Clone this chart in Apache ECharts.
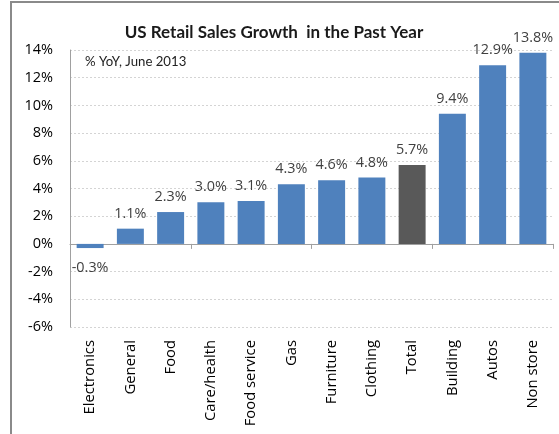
<!DOCTYPE html>
<html>
<head>
<meta charset="utf-8">
<style>
  html, body { margin: 0; padding: 0; background: #ffffff; }
  #chart { width: 559px; height: 434px; }
</style>
<script src="https://cdn.jsdelivr.net/npm/echarts@6/dist/echarts.min.js"></script>
</head>
<body>
<div id="chart"></div>
<script>
// Retail sales growth by category, % year over year
const categories = ['Electronics', 'General', 'Food', 'Care/health', 'Food service', 'Gas',
                    'Furniture', 'Clothing', 'Total', 'Building', 'Autos', 'Non store'];
const growth = [-0.3, 1.1, 2.3, 3.0, 3.1, 4.3, 4.6, 4.8, 5.7, 9.4, 12.9, 13.8];
const yTicks = { min: -6, max: 14, step: 2 };
const highlightCategory = 'Total';

const BLUE = '#4F81BD';
const DARK = '#595959';
const TEXT = '#404040';
const AXIS = '#A0A0A0';
const LABEL_FONT = 'Open Sans';

const barData = growth.map((v, i) => ({
  value: v,
  itemStyle: { color: categories[i] === highlightCategory ? DARK : BLUE },
  label: v < 0 ? { position: 'bottom', distance: 13 } : { position: 'top', distance: 8 }
}));

const chart = echarts.init(document.getElementById('chart'), null, { renderer: 'canvas' });

chart.setOption({
  animation: false,
  backgroundColor: '#ffffff',
  title: {
    text: 'US Retail Sales Growth  in the Past Year',
    left: 269,
    top: 19,
    textAlign: 'center',
    textStyle: { fontFamily: 'Lato', fontWeight: 'bold', fontSize: 17, color: '#1a1a1a' }
  },
  graphic: [
    {
      type: 'rect',
      shape: { x: 11, y: 2, width: 600, height: 500 },
      style: { fill: 'none', stroke: '#8a8a8a', lineWidth: 2 },
      silent: true
    },
    {
      type: 'text',
      left: 85,
      top: 55,
      style: { text: '% YoY, June 2013', fontFamily: 'Lato', fontSize: 13.2, fill: '#222' }
    }
  ],
  grid: { left: 70, right: 6, top: 50, bottom: 107, containLabel: false },
  xAxis: [
    {
      type: 'category',
      data: categories,
      axisLine: { onZero: true, lineStyle: { color: AXIS, width: 1 } },
      axisTick: { show: true, length: 5, lineStyle: { color: AXIS } },
      axisLabel: { show: false },
      splitLine: { show: false }
    },
    {
      type: 'category',
      data: categories,
      position: 'bottom',
      axisLine: { show: false, onZero: false },
      axisTick: { show: false },
      axisLabel: {
        rotate: 90,
        margin: 13,
        interval: 0,
        fontFamily: LABEL_FONT,
        fontSize: 14.8,
        color: '#000'
      }
    }
  ],
  yAxis: {
    type: 'value',
    min: yTicks.min,
    max: yTicks.max,
    interval: yTicks.step,
    axisLine: { show: true, lineStyle: { color: AXIS } },
    axisTick: { show: false },
    axisLabel: {
      formatter: '{value}%',
      margin: 17,
      fontFamily: LABEL_FONT,
      fontSize: 14.5,
      color: '#000'
    },
    splitLine: { show: true, lineStyle: { color: '#D4D4D4', type: [2, 2], width: 1 } }
  },
  series: [
    {
      type: 'bar',
      xAxisIndex: 0,
      data: barData,
      barCategoryGap: '33%',
      label: {
        show: true,
        formatter: p => p.value.toFixed(1) + '%',
        fontFamily: LABEL_FONT,
        fontSize: 14.4,
        color: TEXT
      }
    }
  ]
});
</script>
</body>
</html>
